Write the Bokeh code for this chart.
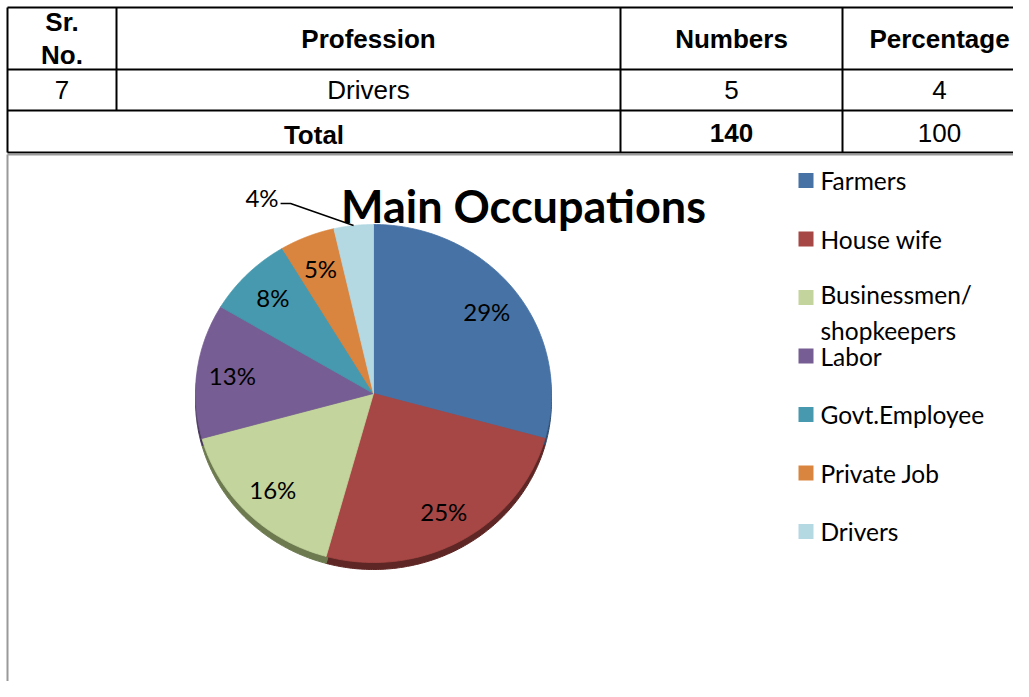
import numpy as np
from bokeh.plotting import figure
from bokeh.models import Range1d
from bokeh.core.properties import value
from bokeh.embed import file_html
from bokeh.resources import INLINE

# ---------------- data ----------------
table_header = ["Sr.\nNo.", "Profession", "Numbers", "Percentage"]
table_row = ["7", "Drivers", "5", "4"]
total_label = "Total"
total_numbers = "140"
total_percentage = "100"

title = "Main Occupations"
categories = ["Farmers", "House wife", "Businessmen/\nshopkeepers", "Labor",
              "Govt.Employee", "Private Job", "Drivers"]
counts = [41, 35, 23, 18, 11, 7, 5]
colors = ["#4672a5", "#a64745", "#c3d49d", "#765d93", "#4699ae", "#da853f", "#b5d9e3"]
side_colors = ["#2e4b6e", "#5e2624", "#6d7a4f", "#46375a", "#2b5e6c", "#86501f", "#7a98a2"]

# ---------------- figure ----------------
W, H = 1013, 681
p = figure(width=W, height=H, x_range=Range1d(0, W), y_range=Range1d(H, 0),
           output_backend="svg", toolbar_location=None, min_border=0,
           x_axis_type=None, y_axis_type=None)
p.outline_line_color = None
p.background_fill_color = "white"

# ---------------- table ----------------
tf = value("Liberation Sans")
tfs = "26px"
row_y = [7, 69, 110, 152]
col_x = [7, 116, 620, 842, 1040]
p.segment(x0=[col_x[0]] * 4, x1=[col_x[-1]] * 4, y0=row_y, y1=row_y,
          line_color="black", line_width=2)
p.segment(x0=[col_x[0], col_x[1], col_x[2], col_x[3]],
          x1=[col_x[0], col_x[1], col_x[2], col_x[3]],
          y0=[row_y[0]] * 4,
          y1=[row_y[3], row_y[2], row_y[3], row_y[3]],
          line_color="black", line_width=2)
# chart frame (grey)
p.segment(x0=[col_x[0], col_x[0]], x1=[col_x[-1], col_x[0]],
          y0=[154, 154], y1=[154, 700], line_color="#9a9a9a", line_width=2)

cx_cols = [(col_x[i] + col_x[i + 1]) / 2 for i in range(3)] + [939]
hdr_y = (row_y[0] + row_y[1]) / 2
p.text(x=cx_cols, y=[hdr_y] * 4, text=table_header, text_font=tf, text_font_size=tfs,
       text_font_style="bold", text_align="center", text_baseline="middle",
       text_line_height=1.1, text_color="black")
r2_y = (row_y[1] + row_y[2]) / 2
p.text(x=cx_cols, y=[r2_y] * 4, text=table_row, text_font=tf, text_font_size=tfs,
       text_align="center", text_baseline="middle", text_color="black")
r3_y = (row_y[2] + row_y[3]) / 2 + 1
p.text(x=[(col_x[0] + col_x[2]) / 2, cx_cols[2]], y=[r3_y + 2, r3_y],
       text=[total_label, total_numbers], text_font=tf, text_font_size=tfs,
       text_font_style="bold", text_align="center", text_baseline="middle", text_color="black")
p.text(x=[cx_cols[3]], y=[r3_y], text=[total_percentage], text_font=tf, text_font_size=tfs,
       text_align="center", text_baseline="middle", text_color="black")

# ---------------- pie ----------------
pf = value("Lato")
cx, cy, rx, ry, depth = 373, 393, 178, 169, 7
vals = np.array(counts, dtype=float)
frac = vals / vals.sum()
ends = np.cumsum(frac) * 2 * np.pi
starts = ends - frac * 2 * np.pi

xs, ys, sxs, sys_ = [], [], [], []
for a0, a1 in zip(starts, ends):
    t = np.linspace(a0, a1, 120)
    px = cx + rx * np.sin(t)
    py = cy - ry * np.cos(t)
    xs.append(np.concatenate([[cx], px]))
    ys.append(np.concatenate([[cy], py]))
    sxs.append(np.concatenate([[cx], px]))
    sys_.append(np.concatenate([[cy + depth], py + depth]))

p.patches(xs=sxs, ys=sys_, fill_color=side_colors, line_color=side_colors, line_width=1)
p.patches(xs=xs, ys=ys, fill_color=colors, line_color=colors, line_width=0.8)

mids = (starts + ends) / 2
pct = [f"{int(round(f * 100))}%" for f in frac]
lab_r = 0.8
lx = cx + lab_r * rx * np.sin(mids)
ly = cy - lab_r * ry * np.cos(mids)
inside = list(range(len(counts) - 1))
p.text(x=lx[inside], y=ly[inside], text=[pct[i] for i in inside], text_font=pf,
       text_font_size="24px", text_align="center", text_baseline="middle", text_color="black")

# outside label for last slice with leader line
k = len(counts) - 1
ex = cx + rx * np.sin(mids[k])
ey = cy - ry * np.cos(mids[k])
elbow_x, elbow_y = ex - 63, ey - 22
p.line(x=[elbow_x - 10, elbow_x, ex], y=[elbow_y, elbow_y, ey], line_color="black", line_width=1.5)
p.text(x=[elbow_x - 12], y=[elbow_y - 6], text=[pct[k]], text_font=pf, text_font_size="24px",
       text_align="right", text_baseline="middle", text_color="black")

# title
p.text(x=[523], y=[205], text=[title], text_font=pf, text_font_size="45px",
       text_font_style="bold", text_align="center", text_baseline="middle", text_color="black")

# ---------------- legend ----------------
leg_y0, leg_step = 180, 58.5
leg_y = [leg_y0 + i * leg_step for i in range(len(categories))]
p.rect(x=[805.5] * len(categories), y=leg_y, width=15, height=15,
       fill_color=colors, line_color=None)
lfs = 24.5
line_h = 1.25
txt_y = [y + (c.count("\n")) * lfs * line_h / 2 for y, c in zip(leg_y, categories)]
p.text(x=[820] * len(categories), y=txt_y, text=categories, text_font=pf,
       text_font_size=f"{lfs}px", text_align="left", text_baseline="middle",
       text_line_height=line_h, text_color="black")

open("out.html", "w").write(file_html(p, INLINE))
